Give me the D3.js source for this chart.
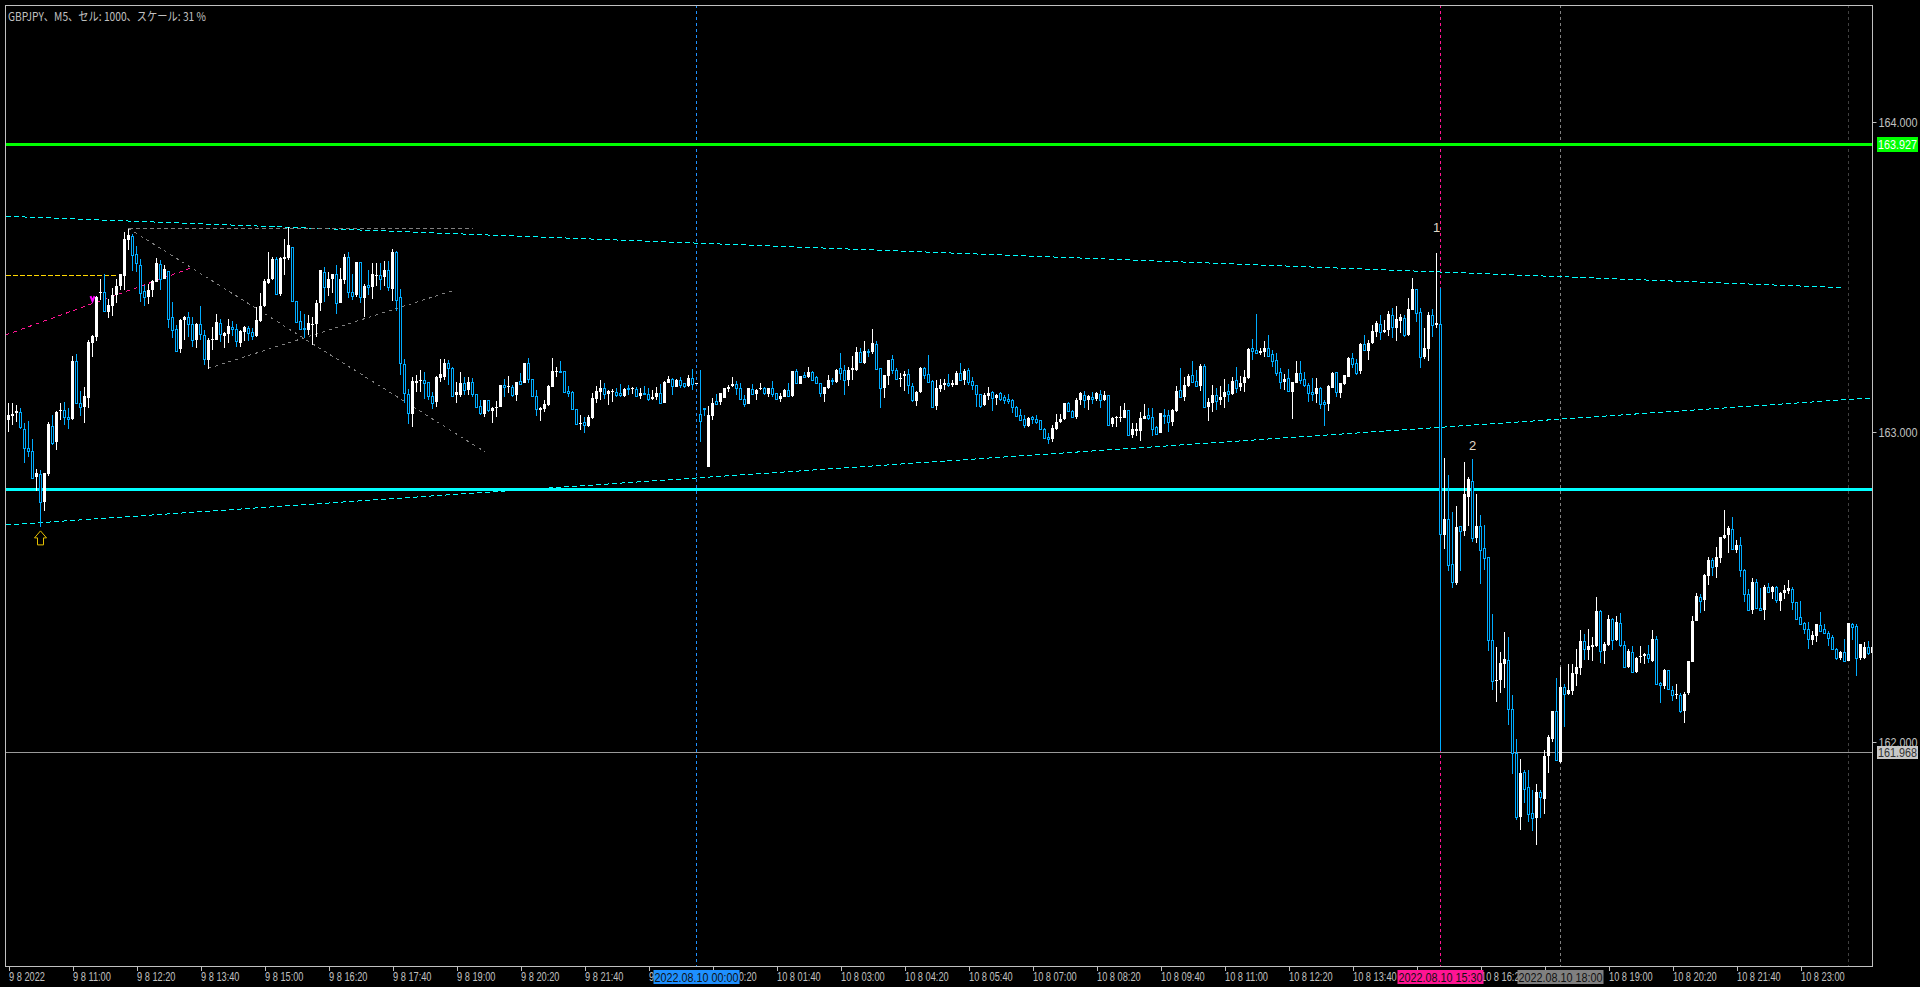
<!DOCTYPE html>
<html><head><meta charset="utf-8">
<script src="https://cdn.jsdelivr.net/npm/d3@7"></script>
<style>html,body{margin:0;padding:0;background:#000;overflow:hidden}svg{display:block}</style>
</head><body><div id="c"></div>
<script>
// Prices are stored as thousandths of a yen above PRICE_BASE.
const PRICE_BASE = 161;
const opens = [
2038,2051,2062,2066,2011,1950,1939,1855,1866,1775,
1863,2020,1968,2067,2071,2049,2042,2228,2094,2081,
2110,2286,2307,2447,2452,2388,2406,2442,2471,2503,
2619,2632,2573,2540,2454,2436,2458,2485,2542,2494,
2519,2370,2331,2267,2361,2370,2347,2298,2347,2312,
2232,2297,2296,2353,2311,2316,2339,2331,2288,2322,
2337,2321,2309,2359,2406,2481,2492,2557,2446,2559,
2561,2597,2423,2359,2334,2329,2348,2348,2415,2517,
2466,2493,2511,2417,2490,2563,2452,2442,2547,2433,
2474,2468,2503,2505,2499,2524,2461,2581,2436,2219,
2124,2058,2158,2166,2169,2160,2116,2096,2174,2179,
2221,2205,2118,2119,2158,2135,2162,2124,2083,2057,
2102,2067,2078,2082,2152,2146,2146,2119,2164,2159,
2222,2170,2116,2071,2074,2087,2146,2195,2197,2196,
2131,2128,2073,2027,2031,2020,2044,2108,2130,2141,
2124,2129,2130,2125,2117,2142,2138,2139,2116,2125,
2124,2108,2113,2126,2095,2159,2170,2146,2168,2157,
2149,2174,2156,2057,2077,1888,2053,2099,2097,2110,
2138,2149,2154,2141,2106,2090,2139,2123,2139,2141,
2123,2141,2125,2106,2114,2135,2116,2196,2156,2183,
2177,2194,2177,2159,2123,2142,2168,2161,2206,2199,
2168,2200,2200,2258,2222,2261,2259,2284,2206,2141,
2182,2235,2199,2170,2182,2186,2149,2101,2129,2205,
2186,2165,2085,2139,2150,2157,2150,2152,2190,2168,
2199,2163,2150,2122,2087,2116,2128,2110,2125,2112,
2105,2102,2082,2054,2041,2019,2047,2043,2038,2011,
1983,1977,2010,2031,2042,2092,2069,2047,2103,2118,
2103,2114,2105,2123,2103,2118,2025,2045,2046,2045,
2070,1990,2003,2004,2042,2054,2047,2015,1997,2055,
2054,2031,2068,2134,2113,2148,2183,2163,2148,2212,
2082,2092,2118,2103,2113,2131,2123,2168,2144,2158,
2173,2270,2263,2254,2257,2270,2252,2231,2193,2162,
2173,2130,2159,2189,2170,2151,2128,2123,2141,2096,
2090,2143,2192,2126,2155,2179,2238,2223,2196,2283,
2261,2287,2324,2350,2324,2329,2379,2335,2358,2367,
2313,2393,2460,2386,2241,2269,2379,2345,2350,1668,
1718,1573,1512,1696,1681,1791,1841,1658,1696,1625,
1596,1328,1197,1200,1253,1266,1108,963,759,903,
854,770,755,838,816,955,1009,1099,936,1176,
1155,1165,1219,1239,1325,1297,1307,1310,1423,1295,
1312,1396,1329,1383,1312,1243,1290,1226,1275,1277,
1284,1261,1332,1189,1181,1231,1167,1152,1152,1101,
1157,1259,1391,1467,1458,1535,1586,1566,1594,1658,
1668,1688,1619,1634,1555,1476,1426,1515,1433,1426,
1499,1484,1501,1456,1482,1487,1493,1451,1402,1383,
1366,1328,1343,1376,1363,1351,1339,1301,1270,1290,
1261,1382,1373,1270,1271,1307,1288];
const closes = [
2054,2057,2068,2015,1950,1939,1853,1869,1775,1869,
2025,1965,2066,2071,2049,2043,2228,2094,2081,2116,
2289,2309,2436,2452,2391,2409,2442,2471,2509,2621,
2635,2571,2546,2450,2436,2458,2487,2544,2494,2525,
2365,2329,2262,2361,2372,2347,2298,2348,2315,2234,
2298,2300,2354,2315,2318,2342,2331,2293,2325,2338,
2320,2310,2361,2406,2487,2495,2557,2446,2561,2563,
2603,2423,2355,2331,2331,2353,2350,2415,2522,2468,
2495,2509,2417,2493,2563,2452,2438,2547,2434,2471,
2468,2509,2508,2494,2524,2468,2581,2425,2221,2126,
2060,2164,2166,2169,2159,2117,2094,2177,2187,2223,
2208,2117,2128,2158,2135,2161,2121,2081,2060,2102,
2071,2079,2082,2152,2144,2149,2119,2161,2156,2222,
2170,2116,2075,2077,2090,2149,2198,2197,2195,2128,
2127,2073,2027,2029,2022,2049,2111,2132,2141,2123,
2131,2132,2119,2119,2138,2138,2142,2116,2125,2123,
2106,2114,2125,2095,2160,2170,2149,2168,2152,2149,
2174,2156,2158,2037,2073,2055,2095,2089,2125,2141,
2146,2154,2141,2106,2090,2141,2124,2136,2142,2126,
2141,2123,2106,2116,2136,2117,2197,2158,2181,2179,
2193,2168,2159,2127,2144,2168,2163,2200,2189,2169,
2200,2206,2258,2225,2261,2258,2288,2202,2141,2184,
2232,2200,2170,2175,2187,2152,2103,2129,2208,2184,
2162,2082,2141,2152,2159,2150,2158,2190,2168,2196,
2162,2150,2122,2084,2119,2125,2111,2119,2106,2103,
2101,2081,2053,2040,2022,2044,2043,2032,2011,1982,
1979,2012,2031,2041,2092,2069,2048,2103,2126,2103,
2115,2106,2125,2103,2118,2024,2045,2048,2048,2071,
1991,2010,2010,2044,2052,2044,2010,1995,2060,2053,
2032,2071,2131,2113,2150,2180,2160,2148,2213,2082,
2096,2118,2101,2113,2128,2123,2165,2143,2157,2177,
2268,2262,2256,2261,2270,2245,2229,2191,2162,2171,
2132,2160,2190,2167,2150,2127,2124,2141,2091,2091,
2148,2190,2128,2157,2183,2238,2220,2191,2284,2266,
2286,2326,2351,2324,2329,2381,2339,2364,2371,2314,
2396,2461,2385,2243,2271,2377,2346,2351,1670,1718,
1572,1517,1692,1682,1799,1848,1659,1697,1620,1594,
1328,1198,1200,1254,1267,1107,963,759,899,849,
769,756,838,821,955,1017,1099,942,1176,1156,
1167,1223,1241,1326,1301,1310,1313,1423,1295,1316,
1396,1329,1387,1312,1243,1293,1225,1271,1278,1284,
1270,1332,1186,1184,1233,1170,1153,1155,1099,1155,
1260,1390,1471,1456,1539,1586,1565,1596,1660,1667,
1690,1622,1636,1556,1476,1426,1515,1433,1425,1501,
1483,1501,1458,1482,1490,1496,1451,1396,1382,1366,
1331,1345,1381,1359,1351,1334,1301,1272,1290,1262,
1383,1372,1272,1315,1307,1286,1305];
const highs = [
2092,2092,2087,2076,2028,2035,1979,1882,1877,1869,
2033,2054,2068,2094,2097,2076,2246,2251,2133,2146,
2296,2312,2439,2493,2511,2429,2466,2495,2511,2644,
2654,2640,2600,2557,2474,2479,2490,2560,2554,2538,
2519,2420,2345,2363,2374,2388,2372,2352,2406,2329,
2302,2339,2382,2363,2323,2366,2359,2350,2329,2342,
2342,2337,2404,2449,2495,2581,2563,2563,2565,2622,
2660,2597,2423,2391,2382,2377,2372,2425,2522,2533,
2515,2509,2538,2528,2574,2581,2511,2549,2549,2479,
2522,2544,2546,2544,2551,2551,2589,2583,2460,2237,
2140,2178,2183,2200,2194,2162,2130,2180,2234,2237,
2232,2210,2162,2192,2178,2176,2173,2124,2103,2103,
2103,2081,2100,2152,2170,2181,2152,2161,2189,2224,
2238,2170,2136,2080,2103,2152,2238,2211,2229,2197,
2149,2131,2073,2055,2047,2055,2125,2149,2168,2157,
2134,2138,2141,2154,2141,2152,2144,2144,2141,2149,
2141,2134,2144,2155,2163,2181,2175,2170,2177,2159,
2183,2202,2158,2200,2079,2084,2109,2123,2125,2141,
2152,2177,2165,2159,2119,2142,2155,2138,2157,2146,
2141,2165,2127,2125,2139,2157,2198,2203,2181,2195,
2209,2197,2181,2159,2146,2184,2173,2203,2254,2216,
2211,2245,2273,2270,2292,2267,2331,2294,2206,2184,
2232,2249,2206,2189,2197,2203,2157,2133,2211,2211,
2248,2168,2168,2170,2170,2187,2168,2197,2222,2202,
2205,2176,2152,2123,2127,2144,2132,2123,2130,2119,
2121,2105,2084,2073,2055,2049,2053,2054,2039,2012,
1996,2023,2058,2058,2095,2097,2071,2109,2130,2132,
2119,2130,2128,2135,2132,2118,2047,2052,2084,2092,
2071,2028,2028,2063,2089,2079,2079,2019,2062,2073,
2071,2074,2148,2205,2176,2186,2229,2200,2219,2218,
2109,2152,2141,2148,2171,2154,2179,2209,2181,2200,
2272,2299,2381,2270,2294,2313,2265,2254,2205,2187,
2203,2162,2228,2228,2194,2157,2173,2173,2144,2103,
2152,2195,2195,2159,2185,2241,2254,2234,2286,2313,
2297,2345,2359,2377,2361,2391,2399,2406,2381,2379,
2431,2496,2460,2399,2334,2387,2396,2576,2463,1915,
1861,1743,1761,1697,1902,1854,1912,1799,1732,1700,
1598,1412,1306,1289,1354,1338,1151,1009,944,910,
910,845,863,845,974,1022,1100,1208,1243,1186,
1252,1252,1300,1361,1350,1363,1338,1467,1426,1324,
1410,1399,1406,1415,1326,1299,1310,1275,1310,1288,
1312,1361,1342,1195,1235,1232,1181,1187,1159,1162,
1262,1406,1482,1476,1542,1596,1592,1630,1662,1748,
1697,1725,1652,1662,1558,1492,1528,1526,1496,1506,
1512,1503,1503,1485,1506,1523,1501,1453,1455,1387,
1387,1359,1382,1419,1381,1358,1345,1302,1295,1331,
1385,1385,1381,1317,1321,1326,1307];
const lows = [
2001,2022,2033,2011,1899,1920,1850,1810,1694,1746,
1858,1958,1941,2038,2022,2009,2038,2090,2051,2030,
2076,2243,2294,2425,2388,2368,2375,2415,2458,2458,
2587,2519,2515,2420,2406,2412,2436,2485,2458,2492,
2334,2302,2259,2255,2296,2307,2273,2270,2296,2216,
2203,2264,2296,2291,2272,2288,2309,2275,2275,2292,
2293,2296,2305,2355,2404,2479,2490,2444,2439,2506,
2554,2420,2352,2329,2302,2312,2280,2307,2391,2420,
2438,2447,2382,2415,2479,2431,2425,2436,2415,2372,
2442,2429,2472,2458,2471,2456,2423,2391,2183,2092,
2025,2017,2130,2130,2108,2103,2074,2081,2162,2167,
2151,2116,2094,2114,2119,2119,2114,2076,2054,2049,
2065,2028,2049,2080,2114,2127,2112,2101,2156,2157,
2157,2114,2050,2037,2066,2084,2144,2179,2194,2125,
2112,2071,2026,2007,1998,2017,2041,2093,2103,2107,
2087,2098,2112,2114,2112,2119,2123,2114,2107,2119,
2101,2103,2103,2093,2093,2157,2119,2144,2141,2141,
2146,2134,2156,1969,2052,1888,2039,2087,2087,2109,
2128,2146,2119,2103,2082,2090,2123,2103,2136,2119,
2114,2114,2103,2098,2112,2116,2114,2157,2155,2173,
2173,2166,2157,2114,2098,2140,2152,2159,2168,2119,
2149,2168,2198,2222,2220,2243,2252,2200,2079,2109,
2152,2187,2168,2144,2133,2123,2098,2085,2125,2171,
2159,2080,2071,2129,2135,2146,2146,2150,2166,2152,
2152,2135,2082,2079,2084,2103,2068,2087,2101,2090,
2089,2062,2049,2037,2014,2015,2026,2026,2009,1980,
1961,1968,2006,2028,2040,2067,2046,2042,2087,2076,
2071,2090,2101,2079,2101,2023,2015,2017,2033,2044,
1989,1980,1988,1972,2042,2039,1988,1994,1996,2026,
2001,2019,2066,2109,2100,2146,2157,2144,2133,2080,
2035,2066,2071,2087,2076,2097,2119,2127,2133,2129,
2170,2232,2254,2248,2241,2243,2211,2181,2139,2135,
2129,2043,2157,2155,2146,2097,2100,2092,2073,2019,
2068,2141,2114,2110,2152,2176,2207,2184,2187,2262,
2232,2285,2308,2297,2318,2310,2304,2294,2318,2307,
2310,2393,2356,2207,2235,2230,2307,2336,970,1622,
1551,1497,1506,1553,1664,1697,1644,1642,1510,1555,
1294,1168,1130,1159,1173,1055,897,748,716,802,
742,713,668,756,768,901,1001,940,931,1049,
1150,1150,1181,1216,1264,1264,1261,1307,1256,1252,
1310,1297,1327,1307,1241,1238,1222,1222,1254,1252,
1256,1257,1183,1127,1170,1168,1133,1139,1093,1062,
1152,1258,1389,1417,1423,1506,1535,1530,1578,1654,
1611,1619,1609,1533,1453,1423,1414,1431,1423,1394,
1480,1461,1447,1423,1460,1477,1426,1394,1381,1350,
1301,1313,1324,1357,1348,1311,1299,1264,1264,1261,
1260,1329,1214,1264,1268,1281,1286];

const chartTitle = "GBPJPY、M5、セル: 1000、スケール: 31 %";
const xTickLabels = ["9 8 2022","9 8 11:00","9 8 12:20","9 8 13:40","9 8 15:00","9 8 16:20","9 8 17:40","9 8 19:00","9 8 20:20","9 8 21:40","9 8 23:00",
"10 8 00:20","10 8 01:40","10 8 03:00","10 8 04:20","10 8 05:40","10 8 07:00","10 8 08:20","10 8 09:40","10 8 11:00","10 8 12:20","10 8 13:40","10 8 15:00","10 8 16:20","10 8 17:40","10 8 19:00","10 8 20:20","10 8 21:40","10 8 23:00"];
const xTickEvery = 16;
const yTicks = [164, 163, 162];
// horizontal levels: price, colour, width
const levelPrices = [163.927, 162.8145, 161.968];
const levelColors = ["#00ff00", "#00ffff", "#9a9a9a"];
const levelWidths = [3, 3, 1];
// vertical markers
const markerBars = [172, 358, 388, 460];
const markerColors = ["#1e90ff", "#ff1493", "#808080", "#404040"];
const markerLabels = ["2022.08.10 00:00", "2022.08.10 15:30", "2022.08.10 18:00", null];
// trend lines: bar index / price end points
const trendFrom = [[-0.7,163.696],[-0.7,162.700],[30,163.657],[30,163.657],[50,163.2055],[-0.7,163.313],[-0.7,163.5055]];
const trendTo = [[458.75,163.4655],[465.9,163.110],[116.1,163.657],[119.1,162.936],[110.8,163.455],[45.4,163.528],[27.4,163.5055]];
const trendColors = ["#00ffff","#00ffff","#808080","#808080","#808080","#ff1493","#ffd700"];
const trendDash = ["5,3","5,3","4,3","3,4","3,4","4,4","5,2"];
const noteBars = [357, 366];
const notePrices = [163.661, 162.955];
const noteTexts = ["1", "2"];

const W = 1920, H = 987, L = 5, T = 5, R = 1872, B = 966;
const BAR_UP = "#ffffff", BAR_DOWN = "#00acff", FRAME = "#c0c0c0";
const TICK_FONT = "'Liberation Sans',sans-serif";

// squeeze a text horizontally to match the chart terminal's narrow face
function squeeze(sel, f) {
  sel.each(function () {
    const w = this.getComputedTextLength();
    this.setAttribute("textLength", (w * f).toFixed(1));
    this.setAttribute("lengthAdjust", "spacingAndGlyphs");
  });
}

const svg = d3.select("#c").append("svg").attr("width", W).attr("height", H).style("background", "#000");
const x = d3.scaleLinear().domain([0, 1]).range([8.5, 12.5]);
const y = d3.scaleLinear().domain([162, 164]).range([742, 122]);
const yv = v => y(PRICE_BASE + v / 1000);
const py = p => Math.round(p);

svg.append("defs").append("clipPath").attr("id", "plot").append("rect")
  .attr("x", L).attr("y", T).attr("width", R - L).attr("height", B - T);
const plot = svg.append("g").attr("clip-path", "url(#plot)");

// vertical markers
plot.selectAll("line.m").data(markerBars).join("line").attr("class", "m")
  .attr("x1", d => x(d)).attr("x2", d => x(d)).attr("y1", T).attr("y2", B)
  .attr("stroke", (d, i) => markerColors[i]).attr("stroke-dasharray", "3,3");

// trend lines
plot.selectAll("line.t").data(trendFrom).join("line").attr("class", "t")
  .attr("x1", d => x(d[0])).attr("y1", d => y(d[1]))
  .attr("x2", (d, i) => x(trendTo[i][0])).attr("y2", (d, i) => y(trendTo[i][1]))
  .attr("stroke", (d, i) => trendColors[i]).attr("stroke-dasharray", (d, i) => trendDash[i])
  .attr("shape-rendering", "crispEdges");

// levels
const levelY = (d, i) => (levelWidths[i] > 1 ? Math.floor(y(d)) : py(y(d))) + 0.5;
plot.selectAll("line.l").data(levelPrices).join("line").attr("class", "l")
  .attr("x1", L).attr("x2", R)
  .attr("y1", levelY).attr("y2", levelY)
  .attr("stroke", (d, i) => levelColors[i]).attr("stroke-width", (d, i) => levelWidths[i]);

// candles
const bars = plot.append("g").attr("shape-rendering", "crispEdges");
const idx = d3.range(opens.length);
const isUp = i => closes[i] >= opens[i];
bars.selectAll("line").data(idx).join("line")
  .attr("x1", i => x(i)).attr("x2", i => x(i))
  .attr("y1", i => py(yv(highs[i]))).attr("y2", i => py(yv(lows[i])))
  .attr("stroke", i => isUp(i) ? BAR_UP : BAR_DOWN);
bars.selectAll("rect.up").data(idx.filter(isUp)).join("rect").attr("class", "up")
  .attr("x", i => x(i) - 1.5).attr("width", 3)
  .attr("y", i => py(yv(closes[i])))
  .attr("height", i => Math.max(1, py(yv(opens[i])) - py(yv(closes[i]))))
  .attr("fill", BAR_UP);
bars.selectAll("rect.dn").data(idx.filter(i => !isUp(i))).join("rect").attr("class", "dn")
  .attr("x", i => x(i) - 1).attr("width", 2)
  .attr("y", i => py(yv(opens[i])) + 0.5)
  .attr("height", i => Math.max(1, py(yv(closes[i])) - py(yv(opens[i]))))
  .attr("fill", "#000").attr("stroke", BAR_DOWN);

// annotations
plot.append("path")
  .attr("transform", `translate(${x(8)},${y(162.681)})`)
  .attr("d", d3.line()([[0,0],[6,7],[3,7],[3,14],[-3,14],[-3,7],[-6,7],[0,0]]))
  .attr("fill", "#000").attr("stroke", "#e6c000");
plot.append("path")
  .attr("transform", `translate(${x(21)},${y(163.432)})`)
  .attr("d", d3.line()([[-2,-2],[0,3],[2,-2]]))
  .attr("fill", "none").attr("stroke", "#ff00ff").attr("stroke-width", 2);
svg.selectAll("text.n").data(noteTexts).join("text").attr("class", "n")
  .attr("x", (d, i) => x(noteBars[i])).attr("y", (d, i) => y(notePrices[i]))
  .attr("text-anchor", "middle").attr("dominant-baseline", "central")
  .attr("font-family", "'Liberation Sans',sans-serif").attr("font-size", 13)
  .attr("fill", "#e0d8c8").text(d => d);

// frame
svg.append("rect").attr("x", L + 0.5).attr("y", T + 0.5).attr("width", R - L).attr("height", B - T)
  .attr("fill", "none").attr("stroke", FRAME);

// x axis
const xTicks = xTickLabels.map((d, k) => k * xTickEvery);
const xAxis = d3.axisBottom(x).tickValues(xTicks).tickSize(4)
  .tickFormat((d, k) => xTickLabels[k]);
const gx = svg.append("g").attr("transform", `translate(0,${B + 0.5})`).call(xAxis);
gx.select(".domain").remove();
gx.selectAll(".tick line").attr("stroke", FRAME).attr("shape-rendering", "crispEdges");
gx.selectAll(".tick text").attr("text-anchor", "start").attr("x", 0).attr("y", 6).attr("dy", "0.72em")
  .attr("fill", "#c0c0c0").attr("font-family", TICK_FONT).attr("font-size", 12).call(squeeze, 0.77);

// y axis
const yAxis = d3.axisRight(y).tickValues(yTicks).tickSize(4).tickFormat(d3.format(".3f"));
const gy = svg.append("g").attr("transform", `translate(${R + 0.5},0)`).call(yAxis);
gy.select(".domain").remove();
gy.selectAll(".tick line").attr("stroke", FRAME);
gy.selectAll(".tick text").attr("x", 6).attr("fill", "#c0c0c0")
  .attr("font-family", TICK_FONT).attr("font-size", 13).call(squeeze, 0.83);

// price tags
const tagH = [15, 0, 13], tagFill = ["#00ff00", null, "#c8c8c8"], tagText = ["#fff", null, "#333"];
levelPrices.forEach((p, i) => {
  if (!tagFill[i]) return;
  const c = levelY(p, i);
  svg.append("rect").attr("x", R + 5).attr("y", c - tagH[i] / 2).attr("width", 41).attr("height", tagH[i]).attr("fill", tagFill[i]);
  svg.append("text").attr("x", R + 6).attr("y", c).attr("dominant-baseline", "central")
    .attr("font-family", TICK_FONT).attr("font-size", 13).attr("fill", tagText[i]).text(d3.format(".3f")(p))
    .call(squeeze, 0.83);
});

// time tags
markerBars.forEach((b, i) => {
  if (!markerLabels[i]) return;
  const cx = x(b);
  svg.append("rect").attr("x", cx - 43).attr("y", 970).attr("width", 86).attr("height", 14).attr("fill", markerColors[i]);
  svg.append("text").attr("x", cx - 42).attr("y", 977).attr("dominant-baseline", "central")
    .attr("font-family", TICK_FONT).attr("font-size", 13).attr("fill", "#111").text(markerLabels[i])
    .call(squeeze, 0.83);
});

// title
svg.append("text").attr("x", 8).attr("y", 15).attr("dominant-baseline", "central")
  .attr("font-family", "'Noto Sans CJK JP',sans-serif").attr("font-size", 12)
  .attr("fill", "#c0c0c0").text(chartTitle)
  .each(function () { this.setAttribute("textLength", 198); this.setAttribute("lengthAdjust", "spacingAndGlyphs"); });
</script></body></html>
